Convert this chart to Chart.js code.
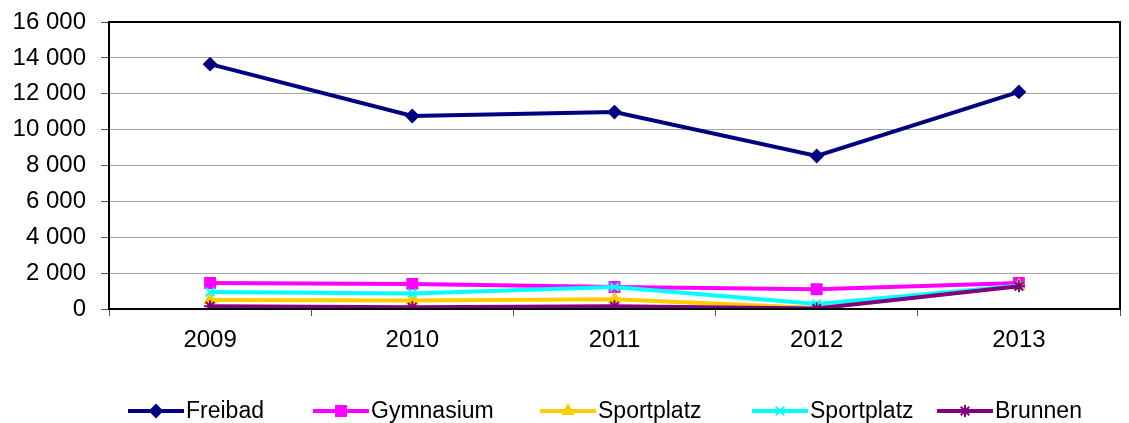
<!DOCTYPE html>
<html lang="de">
<head>
    <meta charset="UTF-8">
    <title>Verbrauch 2009-2013</title>
    <script src="https://cdn.jsdelivr.net/npm/chart.js"></script>
    <style>
        html, body { margin: 0; padding: 0; background: #fff; }
        #wrap { width: 1129px; height: 423px; position: relative; }
    </style>
</head>
<body>
    <div id="wrap"><canvas id="chart"></canvas></div>
    <script>
        // Daten
        const jahre = ['2009', '2010', '2011', '2012', '2013'];
        const freibad = [13650, 10760, 10980, 8530, 12100];
        const gymnasium = [1450, 1400, 1230, 1100, 1450];
        const sportplatz1 = [500, 480, 550, 50, 1300];
        const sportplatz2 = [950, 870, 1230, 280, 1300];
        const brunnen = [150, 100, 150, 30, 1270];
        const yTicks = [0, 2000, 4000, 6000, 8000, 10000, 12000, 14000, 16000];

        const schrift = 'Arial, "Liberation Sans", sans-serif';

        function serie(label, data, color, style, radius, order) {
            return {
                label: label,
                data: data,
                borderColor: color,
                backgroundColor: color,
                borderWidth: 4,
                pointStyle: style,
                pointRadius: radius,
                pointHoverRadius: radius,
                pointBorderWidth: 2,
                pointBorderColor: color,
                pointBackgroundColor: color,
                tension: 0,
                order: order
            };
        }

        const datasets = [
            serie('Freibad', freibad, '#000080', 'rectRot', 6, 4),
            serie('Gymnasium', gymnasium, '#FF00FF', 'rect', 7, 3),
            serie('Sportplatz', sportplatz1, '#FFCC00', 'triangle', 6, 2),
            serie('Sportplatz', sportplatz2, '#00FFFF', 'crossRot', 6, 1),
            serie('Brunnen', brunnen, '#800080', 'star', 6, 0)
        ];

        // Rahmen um die Zeichenfläche
        const rahmen = {
            id: 'rahmen',
            afterDatasetsDraw(chart) {
                const a = chart.chartArea;
                const ctx = chart.ctx;
                ctx.save();
                ctx.strokeStyle = '#000';
                ctx.lineWidth = 2;
                ctx.strokeRect(a.left, a.top, a.right - a.left, a.bottom - a.top);
                ctx.restore();
            }
        };

        // Legende wie im Original (Linie mit Markierung)
        const legendeX = [128, 313, 540, 752, 937];
        const legende = {
            id: 'legende',
            afterDraw(chart) {
                const ctx = chart.ctx;
                const y = 411;
                ctx.save();
                chart.data.datasets.forEach(function(ds, i) {
                    const x0 = legendeX[i];
                    ctx.strokeStyle = ds.borderColor;
                    ctx.lineWidth = 4;
                    ctx.beginPath();
                    ctx.moveTo(x0, y);
                    ctx.lineTo(x0 + 56, y);
                    ctx.stroke();
                    ctx.fillStyle = ds.borderColor;
                    ctx.lineWidth = 2;
                    Chart.helpers.drawPoint(ctx, { pointStyle: ds.pointStyle, radius: ds.pointRadius, rotation: 0, borderWidth: 2 }, x0 + 28, y);
                    ctx.fillStyle = '#000';
                    ctx.font = '23px ' + schrift;
                    ctx.textBaseline = 'middle';
                    ctx.textAlign = 'left';
                    ctx.fillText(ds.label, x0 + 58, y + 1);
                });
                ctx.restore();
            }
        };

        new Chart(document.getElementById('chart'), {
            type: 'line',
            data: { labels: jahre, datasets: datasets },
            options: {
                responsive: true,
                maintainAspectRatio: false,
                animation: false,
                devicePixelRatio: 1,
                layout: { padding: { left: 0, right: 4, top: 22, bottom: 0 } },
                plugins: {
                    legend: { display: false },
                    tooltip: { enabled: false }
                },
                scales: {
                    x: {
                        offset: true,
                        afterFit: function(scale) {
                            scale.height = 114;
                            scale.paddingLeft = 0;
                            scale.paddingRight = 0;
                        },
                        grid: {
                            offset: true,
                            drawOnChartArea: false,
                            drawTicks: true,
                            tickLength: 7,
                            tickColor: '#555'
                        },
                        border: { display: true, color: '#000', width: 2 },
                        ticks: {
                            color: '#000',
                            font: { family: schrift, size: 24 },
                            padding: 10,
                            maxRotation: 0
                        }
                    },
                    y: {
                        min: 0,
                        max: 16000,
                        afterFit: function(scale) {
                            scale.width = 109;
                            scale.paddingTop = 0;
                            scale.paddingBottom = 0;
                        },
                        afterBuildTicks: function(scale) {
                            scale.ticks = yTicks.map(function(v) { return { value: v }; });
                        },
                        grid: {
                            color: '#a6a6a6',
                            lineWidth: 1,
                            drawTicks: true,
                            tickLength: 8,
                            tickColor: '#555'
                        },
                        border: { display: true, color: '#000', width: 2 },
                        ticks: {
                            color: '#000',
                            font: { family: schrift, size: 24 },
                            padding: 15,
                            callback: function(v) {
                                return String(v).replace(/\B(?=(\d{3})+(?!\d))/g, ' ');
                            }
                        }
                    }
                }
            },
            plugins: [rahmen, legende]
        });
    </script>
</body>
</html>
